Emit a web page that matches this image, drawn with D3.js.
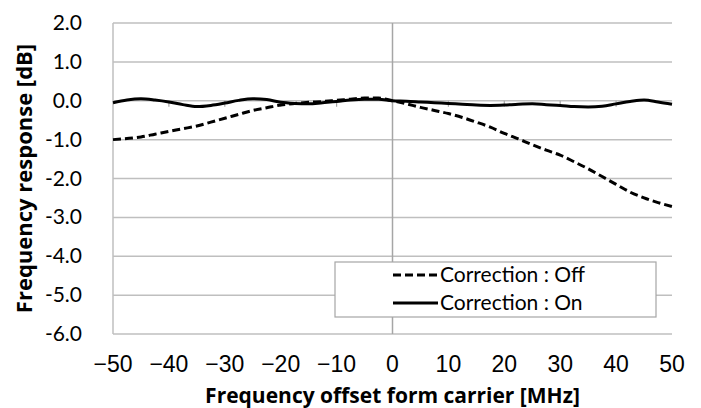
<!DOCTYPE html>
<html>
<head>
<meta charset="utf-8">
<script src="https://cdn.jsdelivr.net/npm/d3@7"></script>
<style>
  body { margin: 0; background: #fff; }
  svg { display: block; }
</style>
</head>
<body>
<div id="chart-area"></div>
<script>
// Data
const freq = [-50, -47.5, -45, -42.5, -40, -37.5, -35, -32.5, -30, -27.5, -25, -22.5, -20, -17.5, -15, -12.5, -10, -7.5, -5, -2.5,
  0, 2.5, 5, 7.5, 10, 12.5, 15, 17.5, 20, 22.5, 25, 27.5, 30, 32.5, 35, 37.5, 40, 42.5, 45, 47.5, 50];
const correctionOff = [-1.00, -0.97, -0.93, -0.86, -0.79, -0.72, -0.65, -0.55, -0.45, -0.35, -0.25, -0.18, -0.11, -0.07, -0.04, -0.02, 0.01, 0.04, 0.07, 0.07,
  0.00, -0.08, -0.17, -0.25, -0.33, -0.43, -0.55, -0.68, -0.84, -0.98, -1.13, -1.27, -1.40, -1.57, -1.75, -1.95, -2.15, -2.35, -2.50, -2.62, -2.72];
const correctionOn = [-0.05, 0.02, 0.05, 0.02, -0.03, -0.10, -0.15, -0.12, -0.06, 0.01, 0.05, 0.03, -0.04, -0.07, -0.08, -0.05, -0.02, 0.02, 0.04, 0.04,
  0.00, -0.01, -0.03, -0.05, -0.07, -0.09, -0.11, -0.12, -0.11, -0.09, -0.08, -0.10, -0.12, -0.15, -0.16, -0.14, -0.08, -0.02, 0.02, -0.03, -0.09];
const xTicks = [-50, -40, -30, -20, -10, 0, 10, 20, 30, 40, 50];
const yTicks = [2, 1, 0, -1, -2, -3, -4, -5, -6];
const seriesNames = ["Correction : Off", "Correction : On"];

const width = 701, height = 408;
const margin = {left: 113, right: 29, top: 23, bottom: 74};
const w = width - margin.left - margin.right;
const h = height - margin.top - margin.bottom;

let svg = d3.select("#chart-area")
  .append("svg")
    .attr("width", width)
    .attr("height", height);

let g = svg.append("g")
  .attr("transform", "translate(" + margin.left + "," + margin.top + ")");

// scales
let x = d3.scaleLinear().domain([-50, 50]).range([0, w]);
let y = d3.scaleLinear().domain([-6, 2]).range([h, 0]);

// horizontal gridlines
g.selectAll(".grid")
  .data(yTicks)
  .enter().append("line")
    .attr("x1", 0).attr("x2", w)
    .attr("y1", d => y(d)).attr("y2", d => y(d))
    .attr("stroke", "#bfbfbf")
    .attr("stroke-width", 1.5);

// left border and vertical axis at x = 0
g.append("line")
  .attr("x1", 0).attr("x2", 0).attr("y1", 0).attr("y2", h)
  .attr("stroke", "#bfbfbf").attr("stroke-width", 1.5);
g.append("line")
  .attr("x1", x(0)).attr("x2", x(0)).attr("y1", 0).attr("y2", h)
  .attr("stroke", "#a6a6a6").attr("stroke-width", 1.5);

// tick marks on the zero line
g.selectAll(".tick0")
  .data(xTicks.filter(d => d !== 0 && Math.abs(d) !== 50))
  .enter().append("line")
    .attr("x1", d => x(d)).attr("x2", d => x(d))
    .attr("y1", y(0)).attr("y2", y(0) + 6)
    .attr("stroke", "#a6a6a6").attr("stroke-width", 1.2);

// y tick labels (plain hyphen like the original)
g.selectAll(".ylab")
  .data(yTicks)
  .enter().append("text")
    .attr("x", -31)
    .attr("y", d => y(d) + 7)
    .attr("text-anchor", "end")
    .attr("font-family", "Lato, 'Open Sans', sans-serif")
    .attr("font-size", "21px")
    .attr("fill", "#000")
    .text(d => d3.format(".1f")(d).replace("\u2212", "-"));

// x tick labels
g.selectAll(".xlab")
  .data(xTicks)
  .enter().append("text")
    .attr("x", d => x(d))
    .attr("y", h + 38)
    .attr("text-anchor", "middle")
    .attr("font-family", "'Liberation Sans Narrow', 'Liberation Sans', sans-serif")
    .attr("font-size", "23px")
    .attr("fill", "#000")
    .text(d => d < 0 ? "\u2212" + Math.abs(d) : d);

// axis titles
svg.append("text")
  .attr("x", margin.left + x(0))
  .attr("y", 403)
  .attr("text-anchor", "middle")
  .attr("font-family", "'Open Sans', sans-serif")
  .attr("font-weight", "bold")
  .attr("font-size", "21px")
  .text("Frequency offset form carrier [MHz]");

svg.append("text")
  .attr("transform", "translate(32," + (margin.top + y(-2)) + ") rotate(-90)")
  .attr("text-anchor", "middle")
  .attr("font-family", "'Open Sans', sans-serif")
  .attr("font-weight", "bold")
  .attr("font-size", "22px")
  .text("Frequency response [dB]");

// lines
let line = d3.line()
  .x((d, i) => x(freq[i]))
  .y(d => y(d))
  .curve(d3.curveMonotoneX);

g.append("path")
  .datum(correctionOff)
  .attr("fill", "none")
  .attr("stroke", "#000")
  .attr("stroke-width", 3)
  .attr("stroke-dasharray", "8,4")
  .attr("d", line);

g.append("path")
  .datum(correctionOn)
  .attr("fill", "none")
  .attr("stroke", "#000")
  .attr("stroke-width", 3)
  .attr("d", line);

// legend
let legend = svg.append("g")
  .attr("transform", "translate(335,262)");
legend.append("rect")
  .attr("width", 321).attr("height", 55)
  .attr("fill", "#fff")
  .attr("stroke", "#a6a6a6").attr("stroke-width", 1.2);

seriesNames.forEach((name, i) => {
  let row = legend.append("g")
    .attr("transform", "translate(0," + (i * 28) + ")");
  row.append("line")
    .attr("x1", 58).attr("x2", 103)
    .attr("y1", 13).attr("y2", 13)
    .attr("stroke", "#000").attr("stroke-width", 3)
    .attr("stroke-dasharray", i === 0 ? "8,4" : null);
  row.append("text")
    .attr("x", 105)
    .attr("y", 20)
    .attr("font-family", "Lato, 'Open Sans', sans-serif")
    .attr("font-size", "21px")
    .text(name);
});
</script>
</body>
</html>
